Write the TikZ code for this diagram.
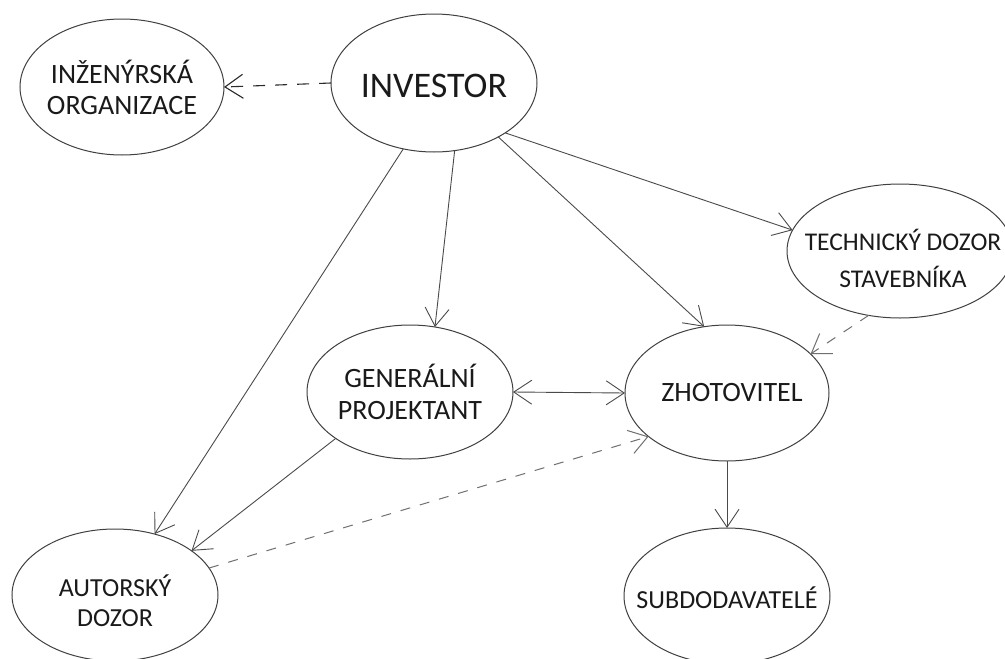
\documentclass[tikz,border=0pt]{standalone}
\usepackage{fontspec}
\setmainfont{Carlito}
\usetikzlibrary{shapes.geometric, arrows.meta}
\definecolor{ellc}{HTML}{404040}
\definecolor{linec}{HTML}{4A4A4A}
\definecolor{dlinec}{HTML}{2A2A2A}
\definecolor{ldashc}{HTML}{707070}
\definecolor{txtc}{HTML}{1A1A1A}
\begin{document}
\begin{tikzpicture}[x=1pt,y=-1pt,
  ell/.style={ellipse, draw=ellc, line width=1pt, inner sep=0pt, outer sep=0pt},
  lbl/.style={text=txtc, align=center, inner sep=0pt},
  conn/.style={draw=linec, line width=0.9pt, -{Straight Barb[length=18pt,width=24pt]}},
  dconn/.style={conn, draw=dlinec, line width=1.1pt, dash pattern=on 12pt off 10pt},
  ldconn/.style={conn, draw=ldashc, line width=1pt, dash pattern=on 10pt off 10pt}
]
\useasboundingbox[fill=white] (0,0) rectangle (1005,659);

\node[ell, minimum width=204pt, minimum height=136pt,
  label={[lbl, font=\fontsize{28}{31}\selectfont]center:INŽENÝRSKÁ\\ORGANIZACE}] (ing) at (122,87) {};
\node[ell, minimum width=206pt, minimum height=138pt,
  label={[lbl, font=\fontsize{36}{40}\selectfont, yshift=-3pt]center:INVESTOR}] (inv) at (434,83) {};
\node[ell, minimum width=226pt, minimum height=134pt,
  label={[lbl, font=\fontsize{25.5}{37}\selectfont, xshift=3pt, yshift=-7pt]center:TECHNICKÝ DOZOR\\STAVEBNÍKA}] (tech) at (900,251) {};
\node[ell, minimum width=206pt, minimum height=134pt,
  label={[lbl, font=\fontsize{28}{32}\selectfont]center:GENERÁLNÍ\\PROJEKTANT}] (gen) at (410,392) {};
\node[ell, minimum width=204pt, minimum height=136pt,
  label={[lbl, font=\fontsize{28}{32}\selectfont, xshift=5pt]center:ZHOTOVITEL}] (zho) at (727,393) {};
\node[ell, minimum width=206pt, minimum height=136pt,
  label={[lbl, font=\fontsize{26}{30}\selectfont, yshift=-2pt]center:SUBDODAVATELÉ}] (sub) at (727,596) {};
\node[ell, minimum width=206pt, minimum height=132pt,
  label={[lbl, font=\fontsize{26}{30}\selectfont, yshift=-6pt]center:AUTORSKÝ\\DOZOR}] (aut) at (115,595) {};

\draw[dconn] (inv.west) -- (ing.east);
\draw[conn] (inv.-115) -- (aut.57);
\draw[conn] (inv.-73) -- (gen.69);
\draw[conn] (inv.-40) -- (zho.109);
\draw[conn] (inv.-35) -- (tech.169);
\draw[ldconn] (tech.-116) -- (zho.25);
\draw[conn, {Straight Barb[length=18pt,width=24pt]}-{Straight Barb[length=18pt,width=24pt]}] (gen.east) -- (zho.west);
\draw[conn] (gen.-148) -- (aut.30);
\draw[ldconn] (aut.16) -- (zho.-151);
\draw[conn] (zho.south) -- (sub.north);
\end{tikzpicture}
\end{document}
